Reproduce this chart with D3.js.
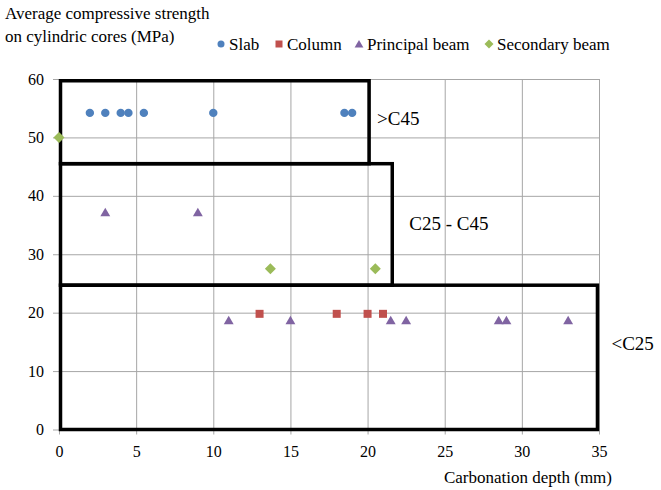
<!DOCTYPE html>
<html lang="en">
<head>
<meta charset="UTF-8">
<title>Compressive strength vs carbonation depth</title>
<script src="https://d3js.org/d3.v7.min.js"></script>
<style>
    body { margin: 0; background: #fff; }
</style>
</head>
<body>
<div id="chart"></div>
<script>
    // data
    const xTicks = [0, 5, 10, 15, 20, 25, 30, 35];
    const yTicks = [0, 10, 20, 30, 40, 50, 60];

    const slabDepth = [2, 3, 4, 4.5, 5.5, 10, 18.5, 19];
    const slabStrength = [54.2, 54.2, 54.2, 54.2, 54.2, 54.2, 54.2, 54.2];

    const columnDepth = [13, 18, 20, 21];
    const columnStrength = [19.8, 19.8, 19.8, 19.8];

    const principalDepth = [3, 9, 11, 15, 21.5, 22.5, 28.5, 29, 33];
    const principalStrength = [37.2, 37.2, 18.7, 18.7, 18.7, 18.7, 18.7, 18.7, 18.7];

    const secondaryDepth = [0, 13.7, 20.5];
    const secondaryStrength = [50, 27.5, 27.5];

    // strength classes (boxes)
    const classNames = [">C45", "C25 - C45", "<C25"];
    const classMaxDepth = [20.1, 21.6, 34.9];
    const classLow = [45.5, 24.7, 0];
    const classHigh = [59.7, 45.5, 24.7];

    const seriesNames = ["Slab", "Column", "Principal beam", "Secondary beam"];
    const seriesColors = ["#4f81bd", "#c0504d", "#8064a2", "#9bbb59"];

    // layout
    const W = 661, H = 490;
    const plotL = 59, plotR = 599, plotT = 79, plotB = 429.5;
    const FONT = "'Liberation Serif', 'DejaVu Serif', serif";

    const svg = d3.select("#chart").append("svg")
        .attr("width", W)
        .attr("height", H)
        .attr("font-family", FONT);

    const x = d3.scaleLinear().domain([0, 35]).range([plotL, plotR]);
    const y = d3.scaleLinear().domain([0, 60]).range([plotB, plotT]);

    // y axis + horizontal grid
    const yAxis = svg.append("g")
        .attr("transform", `translate(${plotL},0)`)
        .call(d3.axisLeft(y).tickValues(yTicks).tickSizeInner(-(plotR - plotL)).tickSizeOuter(0).tickPadding(15))
        .attr("font-family", FONT).attr("font-size", 16);
    yAxis.select(".domain").attr("stroke", "#a6a6a6");
    yAxis.selectAll(".tick line").attr("stroke", "#a6a6a6").attr("x1", -6);

    // x axis + vertical grid
    const xAxis = svg.append("g")
        .attr("transform", `translate(0,${plotB})`)
        .call(d3.axisBottom(x).tickValues(xTicks).tickSizeInner(-(plotB - plotT)).tickSizeOuter(0).tickPadding(16))
        .attr("font-family", FONT).attr("font-size", 16);
    xAxis.select(".domain").attr("stroke", "#a6a6a6");
    xAxis.selectAll(".tick line").attr("stroke", "#a6a6a6").attr("y1", 5);

    // class boxes
    const labelDx = [8, 17, 14];
    const labelY = [53.3, 35.3, 14.8];
    classNames.forEach((name, i) => {
        svg.append("rect")
            .attr("x", x(0) + 1.5)
            .attr("y", y(classHigh[i]))
            .attr("width", x(classMaxDepth[i]) - x(0) - 1.5)
            .attr("height", y(classLow[i]) - y(classHigh[i]))
            .attr("fill", "none")
            .attr("stroke", "#000")
            .attr("stroke-width", 3.5);
        svg.append("text")
            .attr("x", x(classMaxDepth[i]) + labelDx[i])
            .attr("y", y(labelY[i]))
            .attr("dy", "0.35em")
            .attr("font-size", 19)
            .text(name);
    });

    // markers
    const triangle = s => `M0,${-s * 0.5}L${s * 0.55},${s * 0.45}L${-s * 0.55},${s * 0.45}Z`;
    const marker = (g, k, color) => {
        if (k === 0) g.append("circle").attr("r", 4.2).attr("fill", color);
        if (k === 1) g.append("rect").attr("x", -4).attr("y", -4).attr("width", 8).attr("height", 8).attr("fill", color);
        if (k === 2) g.append("path").attr("d", triangle(9)).attr("fill", color);
        if (k === 3) g.append("path").attr("d", "M0,-5.5L5.5,0L0,5.5L-5.5,0Z").attr("fill", color);
    };

    const series = [
        [slabDepth, slabStrength],
        [columnDepth, columnStrength],
        [principalDepth, principalStrength],
        [secondaryDepth, secondaryStrength]
    ];
    series.forEach(([xs, ys], k) => {
        xs.forEach((d, i) => {
            const g = svg.append("g").attr("transform", `translate(${x(d)},${y(ys[i])})`);
            marker(g, k, seriesColors[k]);
        });
    });

    // axis titles
    svg.append("text").attr("x", 5).attr("y", 19).attr("font-size", 17)
        .text("Average compressive strength");
    svg.append("text").attr("x", 5).attr("y", 42).attr("font-size", 17)
        .text("on cylindric cores (MPa)");
    svg.append("text").attr("x", 612).attr("y", 483).attr("text-anchor", "end").attr("font-size", 17)
        .text("Carbonation depth (mm)");

    // legend
    const legendX = [221, 279, 359, 489];
    const legend = svg.append("g").attr("transform", "translate(0,44)");
    seriesNames.forEach((name, k) => {
        const g = legend.append("g").attr("transform", `translate(${legendX[k]},0)`);
        const m = g.append("g");
        if (k === 0) m.append("circle").attr("r", 3.5).attr("fill", seriesColors[k]);
        else if (k === 1) m.append("rect").attr("x", -3.5).attr("y", -3.5).attr("width", 7).attr("height", 7).attr("fill", seriesColors[k]);
        else if (k === 2) m.append("path").attr("d", triangle(8)).attr("fill", seriesColors[k]);
        else m.append("path").attr("d", "M0,-4.5L4.5,0L0,4.5L-4.5,0Z").attr("fill", seriesColors[k]);
        g.append("text").attr("x", 8).attr("dy", "0.35em").attr("font-size", 17).text(name);
    });
</script>
</body>
</html>
